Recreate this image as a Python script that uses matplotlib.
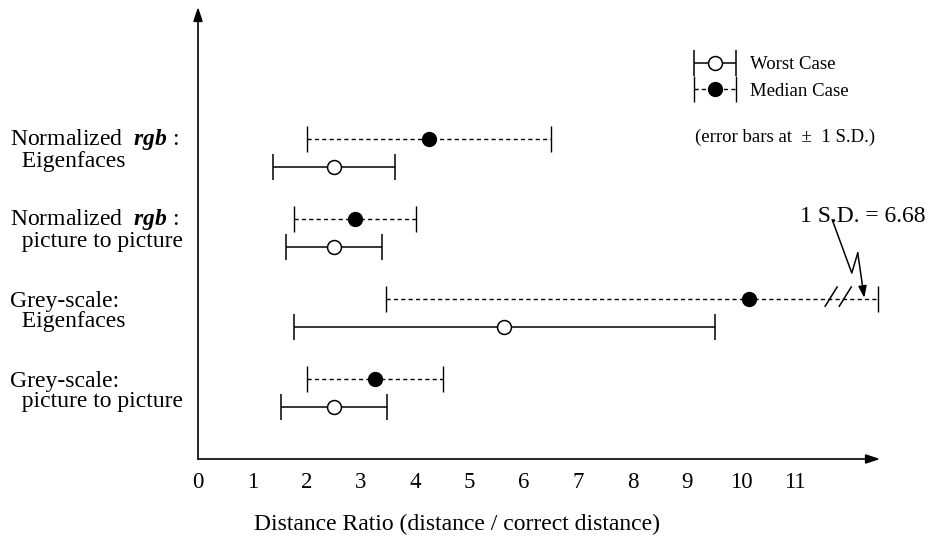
import numpy as np
import matplotlib
matplotlib.use('Agg')
import matplotlib.pyplot as plt
import matplotlib.transforms as mtransforms
from matplotlib.container import ErrorbarContainer
from matplotlib.legend_handler import HandlerErrorbar

plt.rcParams['font.family'] = 'Liberation Serif'
plt.rcParams['mathtext.fontset'] = 'custom'
plt.rcParams['mathtext.rm'] = 'Liberation Serif'
plt.rcParams['mathtext.it'] = 'Liberation Serif:italic'
plt.rcParams['mathtext.bf'] = 'Liberation Serif:bold'
plt.rcParams['mathtext.bfit'] = 'Liberation Serif:italic:bold'

# data
label_top = ['Normalized  $\\mathbfit{rgb}$ :', 'Normalized  $\\mathbfit{rgb}$ :',
             'Grey-scale:', 'Grey-scale:']
label_bottom = ['Eigenfaces', 'picture to picture', 'Eigenfaces', 'picture to picture']
worst_mean = np.array([2.50, 2.50, 5.64, 2.50])
worst_sd = np.array([1.12, 0.88, 3.88, 0.98])
median_mean = np.array([4.25, 2.89, 10.15, 3.26])
median_sd = np.array([2.25, 1.12, 6.68, 1.25])
x_ticks = list(range(12))
x_break = 12.52  # where the long bar is cut off

W, H = 933, 547
fig = plt.figure(figsize=(W / 100, H / 100), dpi=100)
ax = fig.add_axes([198 / W, 1 - 459 / H, 682 / W, 452 / H])
ax.set_xlim(0, 682 / 54.3)
ax.set_ylim(0, 452 / 80)

rows = np.arange(len(worst_mean))[::-1] + 0.82
y_med = rows + 0.175
y_worst = rows - 0.175

eb_w = ax.errorbar(worst_mean, y_worst, xerr=worst_sd, fmt='o', ms=10,
                   mfc='white', mec='black', mew=1.1, ecolor='black',
                   elinewidth=1.1, capsize=9.5, capthick=1.5, zorder=3)
upper = np.minimum(median_sd, x_break - median_mean)
eb_m = ax.errorbar(median_mean, y_med, xerr=[median_sd, upper], fmt='o', ms=10,
                   mfc='black', mec='black', ecolor='black',
                   elinewidth=1.0, capsize=9.5, capthick=1.0, zorder=3)
eb_m[2][0].set_linestyle((0, (3, 2.3)))

# axes as arrows
for s in ax.spines.values():
    s.set_visible(False)
arrow = dict(arrowstyle='-|>,head_length=0.6,head_width=0.2', color='black',
             lw=1.2, shrinkA=0, shrinkB=0, mutation_scale=14)
ax.annotate('', xy=(1, 0), xytext=(0, 0), xycoords='axes fraction', arrowprops=arrow)
ax.annotate('', xy=(0, 1), xytext=(0, 0), xycoords='axes fraction', arrowprops=arrow)

ax.set_xticks(x_ticks)
ax.set_xticklabels([str(t) for t in x_ticks])
ax.tick_params(axis='x', length=0, pad=9, labelsize=16.5)
ax.set_yticks([])

fig.text(457 / W, 1 - 524 / H, 'Distance Ratio (distance / correct distance)',
         fontsize=17, ha='center', va='center')

# two-line row labels (second line indented)
trans = mtransforms.blended_transform_factory(fig.transFigure, ax.transData)
for yc, t1, t2 in zip(rows, label_top, label_bottom):
    ax.text(10 / W, yc - 0.17, t1 + '\n  ' + t2, transform=trans, fontsize=17,
            va='baseline', ha='left', linespacing=0.95)

# break marks on the long bar
yb = y_med[2]
for xb in (11.66, 11.92):
    ax.plot([xb - 0.11, xb + 0.11], [yb - 0.085, yb + 0.155], color='black', lw=1.1)

# zigzag pointer to the cut bar
ax.plot([11.68, 12.04, 12.15], [yb + 0.995, yb + 0.33, yb + 0.58],
        color='black', lw=1.1, clip_on=False)
ax.annotate('', xy=(12.27, yb + 0.02), xytext=(12.15, yb + 0.58),
            arrowprops=dict(arrowstyle='-|>,head_length=0.5,head_width=0.18',
                            lw=1.1, color='black', shrinkA=0, shrinkB=0,
                            mutation_scale=14))
ax.text(11.09, yb + 0.965, f'1 S.D. = {median_sd[2]:.2f}', fontsize=17, va='baseline')

# legend
ax.legend(handles=[eb_w, eb_m], labels=['Worst Case', 'Median Case'],
          loc='upper left', bbox_to_anchor=(694 / W, 1 - 56 / H),
          bbox_transform=fig.transFigure, frameon=False, fontsize=13.5,
          handlelength=2.24, handletextpad=0.75, labelspacing=0.5,
          borderpad=0, borderaxespad=0,
          handler_map={ErrorbarContainer: HandlerErrorbar(xerr_size=1.12)})
fig.text(695 / W, 1 - 137 / H, '(error bars at  ±  1 S.D.)', fontsize=13.5, va='center')

fig.savefig('out.png', dpi=100)
